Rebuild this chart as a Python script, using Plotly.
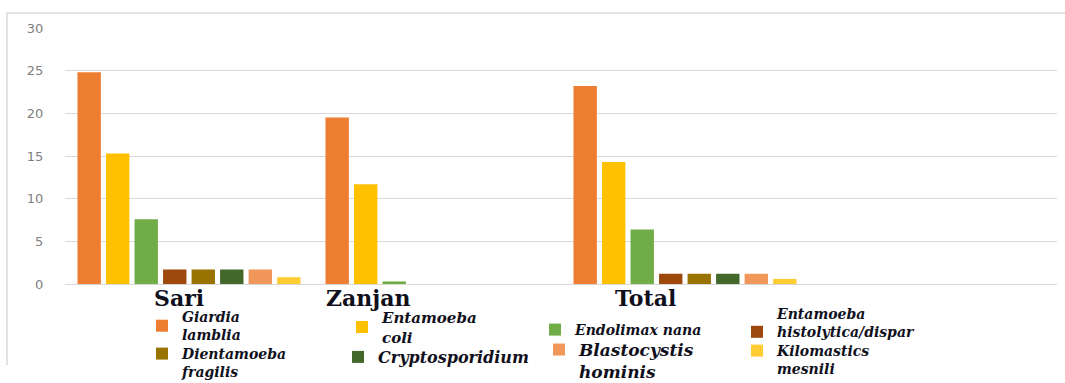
import plotly.graph_objects as go

# ---- data ----
regions = ["Sari", "Zanjan", "Total"]
organisms = [
    "Giardia<br>lamblia",
    "Entamoeba<br>coli",
    "Endolimax nana",
    "Entamoeba<br>histolytica/dispar",
    "Dientamoeba<br>fragilis",
    "Cryptosporidium",
    "Blastocystis<br>hominis",
    "Kilomastics<br>mesnili",
]
giardia = [24.8, 19.5, 23.2]
entamoeba_coli = [15.3, 11.7, 14.3]
endolimax = [7.6, 0.3, 6.4]
histolytica = [1.7, 0.0, 1.2]
dientamoeba = [1.7, 0.0, 1.2]
cryptosporidium = [1.7, 0.0, 1.2]
blastocystis = [1.7, 0.0, 1.2]
kilomastics = [0.8, 0.0, 0.6]
series = [giardia, entamoeba_coli, endolimax, histolytica,
          dientamoeba, cryptosporidium, blastocystis, kilomastics]
y_ticks = [0, 5, 10, 15, 20, 25, 30]

# ---- styles ----
colors = ["#ED7D31", "#FFC000", "#70AD47", "#9E480E",
          "#997300", "#43682B", "#F1975A", "#FFCD33"]

W, H = 1065, 383
ML, MR, MT, MB = 65, 8, 28, 99
PW, PH = W - ML - MR, H - MT - MB


def px_x(px):
    return (px - ML) / PW


def px_y(py):
    return (H - MB - py) / PH


# legend placement: (symbol x, y centre px, valign, font size)
leg_pos = [
    (162, 325, "middle", 14),
    (362, 326, "middle", 15),
    (555, 329, "middle", 14),
    (757, 322, "bottom", 14),
    (162, 362, "top", 14),
    (358, 356, "middle", 16),
    (559, 360, "top", 17),
    (757, 359, "top", 14),
]

fig = go.Figure()
layout_legends = {}
for i, (name, vals, col) in enumerate(zip(organisms, series, colors)):
    key = "legend" if i == 0 else f"legend{i + 1}"
    fig.add_trace(go.Bar(
        x=regions, y=vals, name=name,
        marker=dict(color=col, line=dict(width=0)),
        legend=key, showlegend=True,
    ))
    sx, sy, val, fs = leg_pos[i]
    layout_legends[key] = dict(
        x=px_x(sx - 20), xanchor="left",
        y=px_y(sy + 1), yanchor="middle",
        valign=val,
        bgcolor="rgba(0,0,0,0)", borderwidth=0,
        orientation="v", itemwidth=30,
        font=dict(family="DejaVu Serif", size=fs, color="#10101c",
                  weight="bold", style="italic"),
        itemclick=False, itemdoubleclick=False,
    )

fig.update_layout(**layout_legends)

# category labels (offset as in the original)
label_shift = [-10, -69, -40]
for r, sh in zip(regions, label_shift):
    fig.add_annotation(
        x=r, xref="x", y=px_y(298), yref="paper", xshift=sh,
        text=r, showarrow=False, xanchor="center", yanchor="middle",
        font=dict(family="DejaVu Serif", size=22, color="#10101c", weight="bold"),
    )

# chart frame (top and left edges visible)
frame = dict(type="line", xref="paper", yref="paper",
             line=dict(color="#d9d9d9", width=1.5), layer="below")
fig.add_shape(x0=px_x(7), x1=px_x(7), y0=px_y(13), y1=px_y(365), **frame)
fig.add_shape(x0=px_x(7), x1=px_x(1066), y0=px_y(13), y1=px_y(13), **frame)

fig.update_layout(
    width=W, height=H,
    margin=dict(l=ML, r=MR, t=MT, b=MB, pad=0, autoexpand=False),
    paper_bgcolor="white", plot_bgcolor="white",
    barmode="group", bargap=0.08, bargroupgap=0.18,
    xaxis=dict(type="category", categoryorder="array", categoryarray=regions,
               range=[-0.5, 3.5], showticklabels=False, showgrid=False,
               showline=False, ticks="", zeroline=False, fixedrange=True),
    yaxis=dict(range=[0, 30], tickvals=y_ticks, showgrid=True,
               gridcolor="#d9d9d9", gridwidth=1, zeroline=True,
               zerolinecolor="#d9d9d9", zerolinewidth=1, showline=False,
               ticks="outside", ticklen=18, tickcolor="rgba(0,0,0,0)",
               tickfont=dict(family="DejaVu Sans", size=13, color="#7f7f7f"),
               fixedrange=True),
    font=dict(family="DejaVu Sans"),
)

fig.write_html("out.html")
